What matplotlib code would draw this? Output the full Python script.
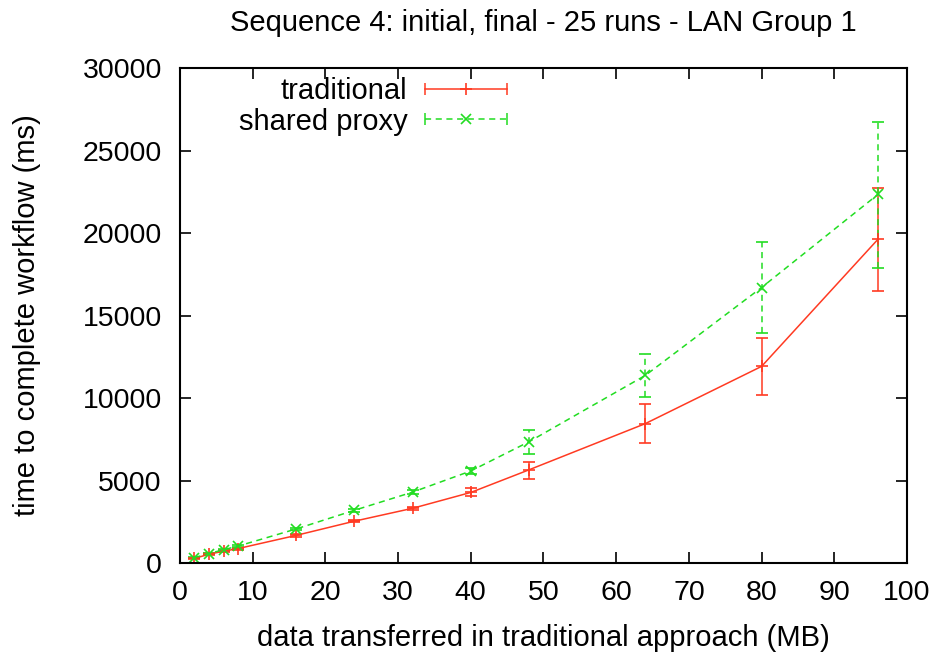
import matplotlib
matplotlib.use("Agg")
import matplotlib.pyplot as plt
from matplotlib.lines import Line2D
from matplotlib.legend_handler import HandlerLine2D, HandlerTuple

plt.rcParams['font.family'] = ['Liberation Sans', 'DejaVu Sans']

# data transferred (MB)
data_mb = [2, 4, 6, 8, 16, 24, 32, 40, 48, 64, 80, 96]

# traditional approach: mean time (ms) and error half-ranges
trad_mean = [280, 540, 720, 880, 1680, 2540, 3320, 4280, 5650, 8450, 11920, 19620]
trad_lo = [40, 50, 60, 60, 70, 80, 100, 240, 540, 1180, 1720, 3130]
trad_hi = [40, 50, 60, 60, 70, 80, 100, 250, 500, 1180, 1700, 3120]

# shared proxy: mean time (ms) and error half-ranges
proxy_mean = [330, 580, 810, 1030, 2070, 3200, 4300, 5580, 7350, 11370, 16700, 22340]
proxy_lo = [40, 50, 60, 60, 70, 80, 120, 200, 720, 1310, 2750, 4440]
proxy_hi = [40, 50, 60, 60, 70, 80, 120, 200, 710, 1320, 2760, 4390]

RED = '#ff3a22'
GREEN = '#22dd22'
DASH = (0, (4, 3))

fig = plt.figure(figsize=(9.37, 6.54), dpi=100)
ax = fig.add_axes([0.192, 0.139, 0.776, 0.757])

eb1 = ax.errorbar(data_mb, trad_mean, yerr=[trad_lo, trad_hi], color=RED,
                  lw=1.1, marker='+', ms=8, mew=1.2, capsize=4, elinewidth=1.1,
                  capthick=1.1)
eb2 = ax.errorbar(data_mb, proxy_mean, yerr=[proxy_lo, proxy_hi], color=GREEN,
                  lw=1.1, ls=DASH, marker='x', ms=7, mew=1.2, capsize=4,
                  elinewidth=1.1, capthick=1.1)
for bar in eb2[2]:
    bar.set_linestyle(DASH)

ax.set_xlim(0, 100)
ax.set_ylim(0, 30000)
ax.set_xticks(range(0, 101, 10))
ax.set_yticks(range(0, 30001, 5000))
ax.tick_params(direction='in', length=8, width=1.2, top=True, right=True,
               labelsize=20.5)
ax.tick_params(axis='x', pad=12)
ax.tick_params(axis='y', pad=13)
for s in ax.spines.values():
    s.set_linewidth(1.5)

ax.set_title('Sequence 4: initial, final - 25 runs - LAN Group 1',
             fontsize=21, pad=27)
ax.set_xlabel('data transferred in traditional approach (MB)', fontsize=21,
              labelpad=13)
ax.set_ylabel('time to complete workflow (ms)', fontsize=21, labelpad=30)

# gnuplot-style legend keys: line with end caps and a centre marker
t_line = Line2D([], [], color=RED, lw=1.1, marker='|', ms=9, mew=1.1)
t_mark = Line2D([], [], color=RED, ls='none', marker='+', ms=8, mew=1.2)
p_line = Line2D([], [], color=GREEN, lw=1.1, ls=DASH, marker='|',
                ms=9, mew=1.1)
p_mark = Line2D([], [], color=GREEN, ls='none', marker='x', ms=7, mew=1.2)
hmap = {t_line: HandlerLine2D(numpoints=2), p_line: HandlerLine2D(numpoints=2),
        t_mark: HandlerLine2D(numpoints=1), p_mark: HandlerLine2D(numpoints=1)}
ax.legend([(t_line, t_mark), (p_line, p_mark)], ['traditional', 'shared proxy'],
          handler_map={tuple: HandlerTuple(ndivide=1, pad=0), **hmap},
          loc='upper left', bbox_to_anchor=(0.065, 1.006), frameon=False,
          markerfirst=False, handlelength=3.4, handletextpad=0.3,
          fontsize=21, labelspacing=0.1, borderaxespad=0.0)

fig.savefig('out.png', dpi=100)
